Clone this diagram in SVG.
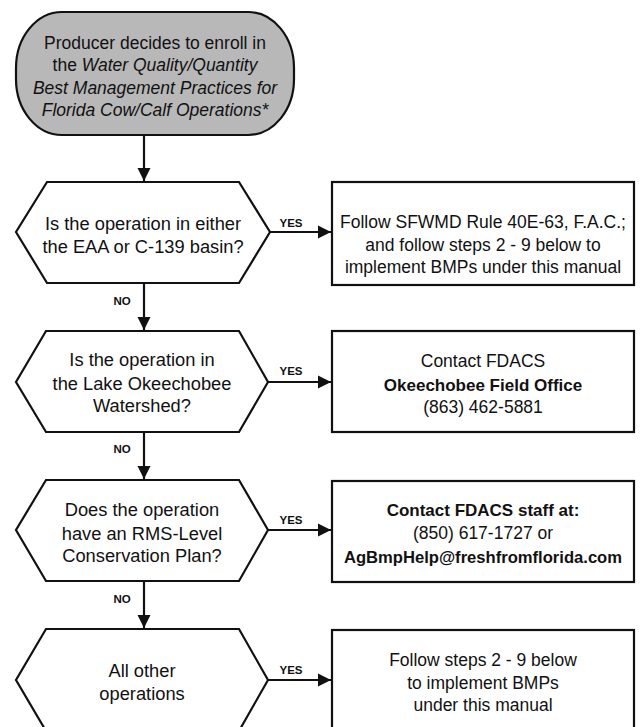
<svg xmlns="http://www.w3.org/2000/svg" width="644" height="727" viewBox="0 0 644 727">
<style>
.sh{fill:#fff;stroke:#111;stroke-width:2.2}
.pill{fill:#b8b8b8;stroke:#111;stroke-width:2.2}
.t{font-family:"Liberation Sans",Arial,sans-serif;font-size:17.5px;fill:#111;text-anchor:middle;dominant-baseline:central}
.h{font-size:18.3px}
.b{font-weight:bold;font-size:17px}
.e{font-size:16.6px}
.i{font-style:italic}
.lab{font-family:"Liberation Sans",Arial,sans-serif;font-size:11.5px;font-weight:bold;fill:#111;text-anchor:middle;dominant-baseline:central}
.c{stroke:#111;stroke-width:2.2;fill:none;marker-end:url(#ah)}
</style>
<defs>
<marker id="ah" viewBox="0 0 10 10" refX="10" refY="5" markerWidth="6" markerHeight="6" markerUnits="strokeWidth" orient="auto">
<path d="M0,0 L10,5 L0,10 z" fill="#111"/>
</marker>
</defs>
<rect width="644" height="727" fill="#fff"/>
<g id="start">
<rect class="pill" x="16" y="12" width="278" height="123" rx="46" ry="56"/>
<text class="t" x="155" y="43">Producer decides to enroll in</text>
<text class="t" x="155" y="65">the <tspan class="i">Water Quality/Quantity</tspan></text>
<text class="t i" x="155" y="88">Best Management Practices for</text>
<text class="t i" x="155" y="110">Florida Cow/Calf Operations*</text>
</g>
<g id="q1">
<polygon class="sh" points="47,182 239,182 270,232 239,283 47,283 16,232"/>
<text class="t h" x="143" y="223">Is the operation in either</text>
<text class="t h" x="143" y="246">the EAA or C-139 basin?</text>
</g>
<g id="a1">
<rect class="sh" x="332" y="182" width="302" height="103"/>
<text class="t" x="483" y="222">Follow SFWMD Rule 40E-63, F.A.C.;</text>
<text class="t" x="483" y="245">and follow steps 2 - 9 below to</text>
<text class="t" x="483" y="267">implement BMPs under this manual</text>
</g>
<g id="q2">
<polygon class="sh" points="46,331 239,331 268,382 239,432 46,432 16,382"/>
<text class="t h" x="142" y="359">Is the operation in</text>
<text class="t h" x="142" y="383">the Lake Okeechobee</text>
<text class="t h" x="142" y="405">Watershed?</text>
</g>
<g id="a2">
<rect class="sh" x="332" y="331" width="302" height="101"/>
<text class="t" x="483" y="361">Contact FDACS</text>
<text class="t b" x="483" y="385">Okeechobee Field Office</text>
<text class="t" x="483" y="407">(863) 462-5881</text>
</g>
<g id="q3">
<polygon class="sh" points="46,480 239,480 268,530 239,581 46,581 16,530"/>
<text class="t h" x="142" y="509">Does the operation</text>
<text class="t h" x="142" y="533">have an RMS-Level</text>
<text class="t h" x="142" y="555">Conservation Plan?</text>
</g>
<g id="a3">
<rect class="sh" x="332" y="481" width="302" height="101"/>
<text class="t b" x="483" y="510">Contact FDACS staff at:</text>
<text class="t" x="483" y="533">(850) 617-1727 or</text>
<text class="t b e" x="483" y="557">AgBmpHelp@freshfromflorida.com</text>
</g>
<g id="q4">
<polygon class="sh" points="46,629 239,629 268,680 239,731 46,731 16,680"/>
<text class="t h" x="142" y="670">All other</text>
<text class="t h" x="142" y="693">operations</text>
</g>
<g id="a4">
<rect class="sh" x="332" y="630" width="302" height="102"/>
<text class="t" x="483" y="660">Follow steps 2 - 9 below</text>
<text class="t" x="483" y="683">to implement BMPs</text>
<text class="t" x="483" y="705">under this manual</text>
</g>
<g id="connectors">
<line class="c" x1="144" y1="135" x2="144" y2="181"/>
<line class="c" x1="270" y1="232" x2="331" y2="232"/>
<line class="c" x1="144" y1="283" x2="144" y2="330"/>
<line class="c" x1="268" y1="382" x2="331" y2="382"/>
<line class="c" x1="144" y1="432" x2="144" y2="479"/>
<line class="c" x1="268" y1="530" x2="331" y2="530"/>
<line class="c" x1="144" y1="581" x2="144" y2="628"/>
<line class="c" x1="268" y1="680" x2="331" y2="680"/>
<text class="lab" x="291" y="223">YES</text>
<text class="lab" x="291" y="371">YES</text>
<text class="lab" x="291" y="520">YES</text>
<text class="lab" x="291" y="670">YES</text>
<text class="lab" x="122" y="301">NO</text>
<text class="lab" x="122" y="449">NO</text>
<text class="lab" x="122" y="599">NO</text>
</g>
</svg>
